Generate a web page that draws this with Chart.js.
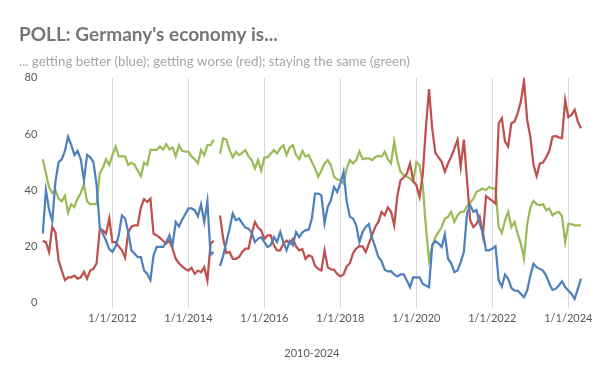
<!DOCTYPE html>
<html>
<head>
<meta charset="utf-8">
<script src="https://cdn.jsdelivr.net/npm/chart.js@4.4.0/dist/chart.umd.min.js"></script>
<style>
  html, body { margin: 0; padding: 0; background: #ffffff; }
  #wrap { width: 600px; height: 371px; position: relative; }
</style>
</head>
<body>
<div id="wrap"><canvas id="chart"></canvas></div>
<script>
// Monthly poll results, March 2010 to May 2024
const startYear = 2010;
const startMonth = 3;

// getting better (blue)
const better = [
    24.5, 40, 33, 29, 43, 50, 51, 54, 59, 56,
    52.5, 54, 51, 43.5, 52.5, 51.7, 50, 42, 27, 24.5,
    22, 19, 18, 20, 24, 31, 30, 25, 18.6, 17.4,
    16.2, 16.2, 11.4, 10.2, 8, 16.8, 19.8, 19.8, 19.8, 21.5,
    23.9, 20.4, 28.7, 27.1, 29.5, 31.4, 33.5, 33.5, 32.9, 30.7,
    35, 28.7, 36, 17, 18, null, 13, 16.8, 21.5, 26.3,
    31.7, 29.3, 29.9, 28.3, 26.7, 26.3, 24.8, 21.5, 22.7, 23.3,
    21.5, 19.8, 20.4, 23.3, 21.5, 25.1, 21.5, 18.6, 21.9, 20.4,
    25.1, 23.3, 25, 25.7, 26, 29.9, 38.8, 38.8, 38.2, 28.3,
    34, 36.4, 41.2, 39.4, 42.4, 46.5, 36, 30.5, 29.9, 27.5,
    21.5, 25.1, 26.9, 27.9, 23.1, 19.8, 16.2, 14.8, 11.7, 11.1,
    11.2, 10, 9.3, 10, 10, 7.9, 5.5, 9, 9, 9,
    6.7, 6.1, 5.5, 20.4, 21.9, 21, 19.8, 24.3, 15.6, 14,
    10.8, 11.4, 14.4, 18, 31.7, 34.6, 32.3, 32.9, 28, 25,
    18.6, 18.6, 19.2, 20.1, 7.9, 5.7, 10, 8.5, 5.2, 4.3,
    4.3, 3.1, 1.9, 4.3, 9.6, 13.8, 12.6, 12, 11.4, 9.6,
    6.7, 4.5, 4.9, 6.1, 7.6, 5.5, 4.3, 3.1, 1.3, 4.9,
    8.5
];

// getting worse (red)
const worse = [
    22, 21.5, 18, 27, 25, 15, 11.4, 8, 9, 9,
    9.6, 8.5, 9, 11, 8.5, 11.4, 12, 14, 26, 25.7,
    24.5, 30, 21.5, 21.5, 20, 18.6, 16, 25, 27, 27.5,
    27.5, 33.8, 36.8, 35.8, 37, 24.5, 23.9, 23, 22, 21,
    22, 19.2, 15.6, 14, 12.9, 12, 11.4, 12.4, 10.2, 11.4,
    10.8, 12.6, 7.9, 21, 22, null, 31, 22.7, 17.6, 18,
    15.6, 15.6, 16.2, 18, 19.2, 19.2, 24.5, 28.7, 26.7, 25.7,
    22.7, 23.9, 23.9, 20.4, 18.6, 18.6, 21, 22.1, 21, 22.7,
    20, 18.6, 19, 15.6, 16.8, 16.4, 13.1, 12, 11.4, 18.6,
    12.6, 11.8, 11.7, 10.2, 9.3, 10, 12.9, 14, 17.6, 19.2,
    20.1, 20, 18, 21, 23.9, 26.9, 28.7, 32.3, 31.1, 33.8,
    32.3, 27.5, 37.9, 43.6, 44.5, 45.9, 49.5, 43.3, 41.8, 37.6,
    45.4, 62, 76, 62, 53.3, 51.7, 50.1, 46.5, 49.5, 51.9,
    54.8, 57.9, 48.3, 58, 43.6, 29.3, 26.9, 28, 30.5, 23.9,
    37.9, 37, 36.2, 35.2, 63.8, 65.6, 57.3, 55.5, 63.8, 64.4,
    67.4, 71.5, 79, 65, 59, 49, 45, 49.5, 49.8, 51.7,
    54, 59, 59.3, 58.8, 58.5, 72, 66, 66.8, 68.6, 64.4,
    62
];

// staying the same (green)
const same = [
    51, 46, 41, 39, 40, 37, 36, 38, 32, 35,
    34, 37, 39, 42, 36, 35, 35, 35, 46, 48,
    51, 49, 52.5, 55.5, 52, 52, 52, 49, 49.8, 49,
    47, 45, 49.8, 49, 54.3, 54.3, 54.3, 55.5, 54.5, 56.4,
    54.5, 55.2, 52, 56, 54, 53.7, 53.7, 52, 51, 49.5,
    54.3, 52.5, 56, 56, 58, null, 53, 58.5, 58, 54.3,
    51.7, 53.6, 52.5, 53.3, 54.3, 52, 50.7, 47.7, 50.7, 47,
    51.7, 51.7, 53, 54.3, 53, 54.9, 56, 52.5, 55.2, 56,
    52.5, 51, 54, 52, 52.5, 50, 47.7, 44.8, 47, 49.5,
    50.7, 48.9, 44.8, 43.8, 43.6, 42.4, 47.7, 50.7, 49.5, 50.7,
    53.7, 51, 51.3, 51.3, 50.7, 51.7, 52.3, 51.9, 53.7, 51,
    49.5, 57.3, 50.7, 46.5, 45.4, 44.8, 44.2, 43, 50, 48.9,
    42, 27, 15, 20, 23.3, 25.1, 26.9, 29.9, 30.5, 32.3,
    28.7, 31, 32.3, 32.3, 34.3, 35.5, 37, 39.4, 40, 40.6,
    40, 41.2, 40.6, 40.6, 26.9, 24.8, 29.3, 32.3, 26.9, 28.7,
    24.5, 21, 15.6, 27.9, 33.8, 36.2, 35, 34.6, 35, 32.9,
    33.5, 31, 31.9, 32.3, 30.7, 21.5, 28, 27.9, 27.5, 27.5,
    27.5
];

const yTicks = [0, 20, 40, 60, 80];

// month categories "YYYY-MM"
const months = [];
for (let k = 0; k < better.length; k++) {
    const m = startMonth - 1 + k;
    const y = startYear + Math.floor(m / 12);
    const mm = (m % 12) + 1;
    months.push(`${y}-${String(mm).padStart(2, '0')}`);
}

const FONT = 'Lato, "Open Sans", sans-serif';

function series(label, data, color) {
    return {
        label: label,
        data: data,
        borderColor: color,
        backgroundColor: color,
        borderWidth: 2.25,
        pointRadius: 0,
        tension: 0,
        spanGaps: false
    };
}

new Chart(document.getElementById('chart'), {
    type: 'line',
    data: {
        labels: months,
        datasets: [
            series('getting better', better, '#4f81bd'),
            series('getting worse', worse, '#c0504d'),
            series('staying the same', same, '#9bbb59')
        ]
    },
    options: {
        responsive: true,
        maintainAspectRatio: false,
        animation: false,
        layout: {
            padding: { left: 19, right: 19, top: 0, bottom: 7 }
        },
        plugins: {
            legend: { display: false },
            tooltip: { enabled: false },
            title: {
                display: true,
                text: "POLL: Germany's economy is...",
                align: 'start',
                color: '#767676',
                font: { family: FONT, size: 19, weight: 'bold' },
                padding: { top: 23, bottom: 8 }
            },
            subtitle: {
                display: true,
                text: '... getting better (blue); getting worse (red); staying the same (green)',
                align: 'start',
                color: '#a6a6a6',
                font: { family: FONT, size: 13.3 },
                padding: { top: 0, bottom: 8 }
            }
        },
        scales: {
            x: {
                type: 'category',
                offset: false,
                border: { display: false },
                grid: {
                    color: '#d9d9d9',
                    lineWidth: 1,
                    tickLength: 5
                },
                ticks: {
                    autoSkip: false,
                    maxRotation: 0,
                    minRotation: 0,
                    padding: 4,
                    color: '#595959',
                    font: { family: FONT, size: 11 },
                    callback: function (value) {
                        const lab = this.getLabelForValue(value);
                        const y = parseInt(lab.slice(0, 4), 10);
                        const mm = lab.slice(5);
                        if (mm === '01' && y % 2 === 0 && y >= 2012) {
                            return '1/1/' + y;
                        }
                        return null;
                    }
                },
                title: {
                    display: true,
                    text: '2010-2024',
                    color: '#595959',
                    font: { family: FONT, size: 11 },
                    padding: { top: 18, bottom: 4 }
                }
            },
            y: {
                min: yTicks[0],
                max: yTicks[yTicks.length - 1],
                border: { display: false },
                grid: { display: false, drawTicks: false },
                afterBuildTicks: function (axis) {
                    axis.ticks = yTicks.map(v => ({ value: v }));
                },
                ticks: {
                    padding: 5.5,
                    color: '#595959',
                    font: { family: FONT, size: 11 }
                }
            }
        }
    }
});
</script>
</body>
</html>
